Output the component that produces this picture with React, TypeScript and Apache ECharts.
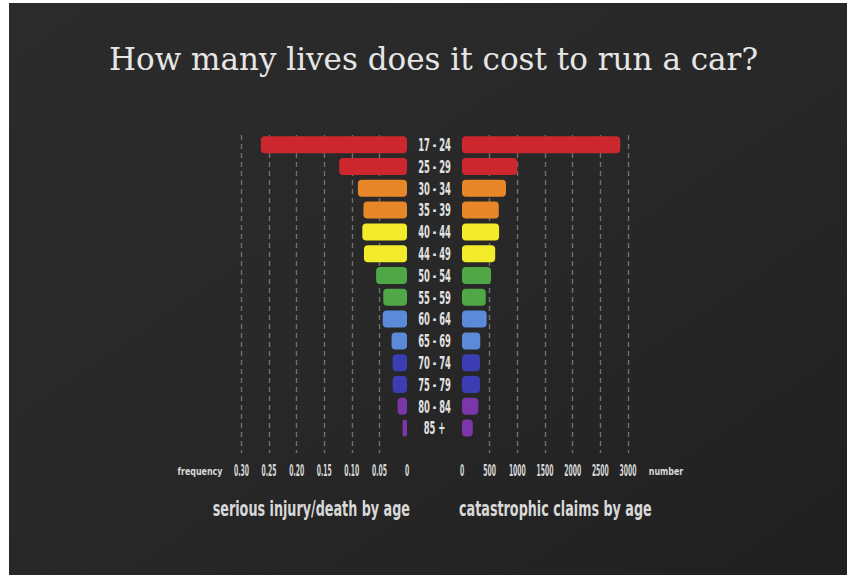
import React, { useEffect, useRef } from "react";
import * as echarts from "echarts";

const ageGroups = [
  "17 - 24", "25 - 29", "30 - 34", "35 - 39", "40 - 44", "44 - 49", "50 - 54",
  "55 - 59", "60 - 64", "65 - 69", "70 - 74", "75 - 79", "80 - 84", "85 +",
];
const injuryFrequency = [0.265, 0.123, 0.089, 0.079, 0.081, 0.078, 0.056, 0.043, 0.044, 0.028, 0.026, 0.026, 0.017, 0.008];
const catastrophicClaims = [2860, 1000, 795, 665, 670, 600, 525, 430, 445, 330, 325, 325, 295, 195];
const barColors = [
  "#cc262e", "#cc262e", "#e8862a", "#e8862a", "#f3ec2b", "#f3ec2b", "#4fa845",
  "#4fa845", "#5b8bd8", "#5b8bd8", "#3b3db2", "#3b3db2", "#7b37aa", "#7b37aa",
];
const frequencyTicks = [0.3, 0.25, 0.2, 0.15, 0.1, 0.05, 0];
const claimTicks = [0, 500, 1000, 1500, 2000, 2500, 3000];

const TITLE = "How many lives does it cost to run a car?";
const LEFT_SUB = "serious injury/death by age";
const RIGHT_SUB = "catastrophic claims by age";
const LEFT_UNIT = "frequency";
const RIGHT_UNIT = "number";

const NARROW = '"DejaVu Sans Condensed", "DejaVu Sans", sans-serif';
const LABEL = "#d8d8d8";

export default function App() {
  const ref = useRef<HTMLDivElement>(null);
  useEffect(() => {
    if (!ref.current) return;
    const chart = echarts.init(ref.current, null, { renderer: "svg" });
    const split = {
      show: true,
      showMinLine: false,
      lineStyle: { color: "#707070", width: 1.4, type: [5, 4] as any },
    };
    const barGrid = { top: 133.8, height: 305.2 };
    const axisGrid = { top: 135, height: 318 };

    const tickRender = (fmt: (v: number) => string) => (params: any, api: any) => {
      const v = api.value(0);
      const p = api.coord([v, 0]);
      return {
        type: "text",
        x: p[0],
        y: p[1] + 18,
        scaleX: 0.45,
        silent: true,
        style: {
          text: fmt(v), fill: LABEL, fontFamily: NARROW, fontSize: 15, fontWeight: "bold",
          align: "center", verticalAlign: "middle",
        },
      };
    };

    chart.setOption({
      animation: false,
      backgroundColor: "#ffffff",
      grid: [
        { left: 241.5, right: 440, ...barGrid },
        { left: 462, right: 219, ...barGrid },
        { left: 241.5, right: 440, ...axisGrid },
        { left: 462, right: 219, ...axisGrid },
      ],
      xAxis: [
        { gridIndex: 0, type: "value", min: 0, max: 0.3, inverse: true, show: false },
        { gridIndex: 1, type: "value", min: 0, max: 3000, show: false },
        {
          gridIndex: 2, type: "value", min: 0, max: 0.3, interval: 0.05, inverse: true,
          axisLine: { show: false }, axisTick: { show: false }, axisLabel: { show: false },
          splitLine: split,
        },
        {
          gridIndex: 3, type: "value", min: 0, max: 3000, interval: 500,
          axisLine: { show: false }, axisTick: { show: false }, axisLabel: { show: false },
          splitLine: split,
        },
      ],
      yAxis: [
        { gridIndex: 0, type: "category", data: ageGroups, inverse: true, show: false },
        { gridIndex: 1, type: "category", data: ageGroups, inverse: true, show: false },
        { gridIndex: 2, type: "value", min: 0, max: 1, show: false },
        { gridIndex: 3, type: "value", min: 0, max: 1, show: false },
      ],
      series: [
        {
          type: "bar", xAxisIndex: 0, yAxisIndex: 0, barWidth: 17,
          data: injuryFrequency.map((v, i) => ({ value: v, itemStyle: { color: barColors[i], borderRadius: 4 } })),
        },
        {
          type: "bar", xAxisIndex: 1, yAxisIndex: 1, barWidth: 17,
          data: catastrophicClaims.map((v, i) => ({ value: v, itemStyle: { color: barColors[i], borderRadius: 4 } })),
        },
        {
          type: "custom", xAxisIndex: 0, yAxisIndex: 0, silent: true,
          encode: { x: 0, y: 1 },
          data: ageGroups.map((a) => [0, a]),
          renderItem: (params: any, api: any) => {
            const p = api.coord([0, ageGroups[params.dataIndex]]);
            return {
              type: "text",
              x: p[0] + 27.5,
              y: p[1],
              scaleX: 0.52,
              silent: true,
              style: {
                text: ageGroups[params.dataIndex], fill: "#e2e2e2", fontFamily: NARROW,
                fontWeight: "bold", fontSize: 18, align: "center", verticalAlign: "middle",
              },
            };
          },
        },
        {
          type: "custom", xAxisIndex: 2, yAxisIndex: 2, silent: true,
          encode: { x: 0, y: 1 },
          data: frequencyTicks.map((v) => [v, 0]),
          renderItem: tickRender((v) => (v === 0 ? "0" : v.toFixed(2))),
        },
        {
          type: "custom", xAxisIndex: 3, yAxisIndex: 3, silent: true,
          encode: { x: 0, y: 1 },
          data: claimTicks.map((v) => [v, 0]),
          renderItem: tickRender((v) => String(v)),
        },
      ],
      graphic: [
        {
          type: "rect", z: -100, silent: true,
          shape: { x: 9, y: 3, width: 838, height: 572 },
          style: {
            fill: new echarts.graphic.LinearGradient(0, 0, 1, 1, [
              { offset: 0, color: "#2c2b2b" },
              { offset: 0.5, color: "#292828" },
              { offset: 1, color: "#212020" },
            ]),
          },
        },
        {
          type: "text", x: 433.5, y: 59,
          style: {
            text: TITLE, fill: "#e6e6e6", fontFamily: '"DejaVu Serif", serif', fontSize: 31,
            align: "center", verticalAlign: "middle",
          } as any,
        },
        {
          type: "text", x: 200, y: 471, scaleX: 0.8,
          style: {
            text: LEFT_UNIT, fill: LABEL, fontFamily: NARROW, fontSize: 11, fontWeight: "bold",
            align: "center", verticalAlign: "middle",
          } as any,
        },
        {
          type: "text", x: 666, y: 471, scaleX: 0.8,
          style: {
            text: RIGHT_UNIT, fill: LABEL, fontFamily: NARROW, fontSize: 11, fontWeight: "bold",
            align: "center", verticalAlign: "middle",
          } as any,
        },
        {
          type: "text", x: 410, y: 508, scaleX: 0.645,
          style: {
            text: LEFT_SUB, fill: LABEL, fontFamily: NARROW, fontSize: 22, fontWeight: "bold",
            align: "right", verticalAlign: "middle",
          } as any,
        },
        {
          type: "text", x: 459, y: 508, scaleX: 0.645,
          style: {
            text: RIGHT_SUB, fill: LABEL, fontFamily: NARROW, fontSize: 22, fontWeight: "bold",
            align: "left", verticalAlign: "middle",
          } as any,
        },
      ],
    });
    return () => chart.dispose();
  }, []);
  return (
    <div style={{ position: "fixed", left: 0, top: 0, width: 847, height: 575 }}>
      <div ref={ref} style={{ width: 847, height: 575 }} />
    </div>
  );
}
